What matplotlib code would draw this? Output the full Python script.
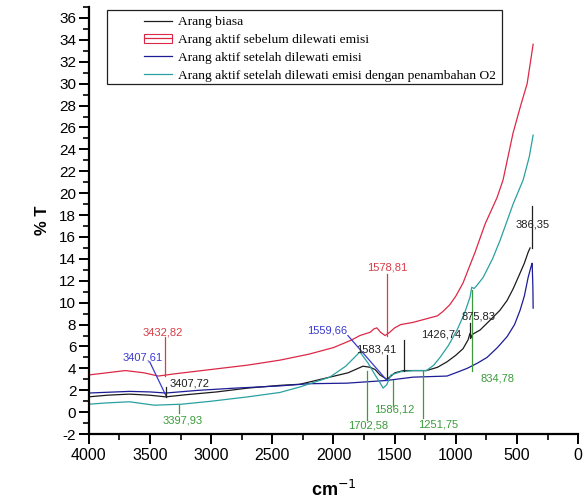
import matplotlib.pyplot as plt
from matplotlib.lines import Line2D
from matplotlib.patches import Patch, Rectangle
from matplotlib.ticker import MultipleLocator

plt.rcParams["axes.unicode_minus"] = False

# ---------- FTIR spectra ----------
wn_biasa = [4000, 3850, 3667, 3500, 3371, 3200, 2955, 2700, 2439, 2275, 2030, 1880,
            1759, 1700, 1660, 1620, 1563, 1530, 1497, 1426, 1340, 1240, 1150, 1072,
            1000, 941, 900, 884, 875, 865, 850, 802, 720, 640, 581, 530, 475, 440,
            409, 393]
t_biasa = [1.4, 1.55, 1.65, 1.55, 1.4, 1.6, 1.85, 2.2, 2.45, 2.55, 3.2, 3.6,
           4.2, 4.1, 3.9, 3.4, 3.0, 3.3, 3.6, 3.8, 3.8, 3.8, 4.1, 4.6,
           5.2, 5.8, 6.6, 7.2, 6.8, 7.1, 7.2, 7.5, 8.4, 9.3, 10.2, 11.3, 12.7, 13.6,
           14.6, 15.0]

wn_sebelum = [4000, 3850, 3700, 3550, 3432, 3300, 3000, 2700, 2439, 2200, 2000, 1850,
              1784, 1700, 1670, 1645, 1615, 1578, 1540, 1500, 1450, 1350, 1250, 1150,
              1105, 1050, 1000, 941, 843, 760, 663, 614, 532, 470, 417, 368]
t_sebelum = [3.4, 3.6, 3.8, 3.6, 3.3, 3.5, 3.9, 4.3, 4.75, 5.3, 5.9, 6.6,
             7.0, 7.3, 7.6, 7.7, 7.3, 7.0, 7.3, 7.7, 8.0, 8.2, 8.5, 8.8,
             9.2, 9.8, 10.6, 11.8, 14.6, 17.2, 19.6, 21.2, 25.5, 28.0, 30.0, 33.6]

wn_setelah = [4000, 3667, 3500, 3371, 3100, 2800, 2439, 2200, 1892, 1563, 1350, 1072,
              1000, 908, 820, 745, 660, 581, 520, 475, 440, 409, 385, 376, 370, 368]
t_setelah = [1.75, 1.9, 1.85, 1.75, 2.0, 2.2, 2.4, 2.6, 2.65, 2.9, 3.2, 3.3,
             3.6, 4.0, 4.5, 5.0, 5.9, 6.9, 8.0, 9.3, 10.6, 12.3, 13.3, 13.6, 11.4, 9.5]

wn_o2 = [4000, 3850, 3667, 3465, 3240, 3000, 2700, 2439, 2275, 2030, 1900, 1784,
         1718, 1660, 1620, 1595, 1565, 1530, 1450, 1350, 1240, 1180, 1129, 1060,
         990, 930, 884, 870, 850, 826, 777, 700, 638, 580, 532, 450, 400, 368]
t_o2 = [0.73, 0.85, 0.95, 0.64, 0.73, 1.0, 1.4, 1.8, 2.3, 3.2, 4.2, 5.5,
        4.5, 3.4, 2.7, 2.2, 2.5, 3.4, 3.7, 3.8, 3.8, 4.3, 5.0, 6.1,
        7.5, 9.0, 10.5, 11.4, 11.3, 11.6, 12.3, 14.0, 15.7, 17.5, 19.0, 21.2, 23.3, 25.3]

labels = ["Arang biasa",
          "Arang aktif sebelum dilewati emisi",
          "Arang aktif setelah dilewati emisi",
          "Arang aktif setelah dilewati emisi dengan penambahan O2"]
colors = ["#1c1c1c", "#dc2846", "#1c1c96", "#2aa0a0"]

# peak labels: text, colour, leader line (x0, y0, x1, y1), text position
red, blue, black, green = "#d83c46", "#3a3ad0", "#202020", "#3c9a3c"
peaks = [
    ("3432,82", red, (3380, 3.3, 3380, 6.9), (3396, 7.3)),
    ("3407,61", blue, (3502, 4.6, 3371, 1.55), (3560, 5.0)),
    ("3407,72", black, (3371, 1.4, 3371, 2.3), (3175, 2.6)),
    ("3397,93", green, (3265, 0.7, 3265, -0.1), (3232, -0.8)),
    ("1578,81", red, (1563, 7.0, 1563, 12.6), (1563, 13.2)),
    ("1559,66", blue, (1882, 7.0, 1563, 2.9), (2054, 7.5)),
    ("1583,41", black, (1563, 3.1, 1563, 5.2), (1653, 5.7)),
    ("1426,74", black, (1424, 3.8, 1424, 6.6), (1121, 7.1)),
    ("875,83", black, (884, 6.8, 884, 8.1), (818, 8.7)),
    ("834,78", green, (867, 11.2, 867, 3.8), (663, 3.1)),
    ("1702,58", green, (1727, 3.8, 1727, -0.7), (1718, -1.2)),
    ("1586,12", green, (1514, 2.9, 1514, 0.6), (1506, 0.2)),
    ("1251,75", green, (1268, 3.8, 1268, -0.5), (1146, -1.1)),
    ("386,35", black, (376, 15.0, 376, 18.8), (376, 17.1)),
]

fig = plt.figure(figsize=(5.84, 5.03), dpi=100)
ax = fig.add_axes([0.152, 0.137, 0.838, 0.849])

series = [(wn_biasa, t_biasa), (wn_sebelum, t_sebelum), (wn_setelah, t_setelah), (wn_o2, t_o2)]
for (x, y), c in zip(series, colors):
    ax.plot(x, y, color=c, lw=0.9)

for txt, c, (x0, y0, x1, y1), (tx, ty) in peaks:
    ax.plot([x0, x1], [y0, y1], color=c, lw=0.9)
    ax.text(tx, ty, txt, color=c, fontsize=8, ha="center", va="center",
            family="Liberation Sans")

ax.set_xlim(4000, 0)
ax.set_ylim(-2, 37)
ax.xaxis.set_major_locator(MultipleLocator(500))
ax.xaxis.set_minor_locator(MultipleLocator(250))
ax.yaxis.set_minor_locator(MultipleLocator(1))
ax.set_yticks(range(-2, 37, 2))
ax.tick_params(which="major", direction="out", length=7, width=1.4)
ax.tick_params(which="minor", direction="out", length=4, width=1.2)
ax.tick_params(axis="x", labelsize=11.5, pad=3)
ax.tick_params(axis="y", labelsize=11, pad=2)
for lab in ax.get_xticklabels() + ax.get_yticklabels():
    lab.set_family("Liberation Sans")
for s in ["top", "right"]:
    ax.spines[s].set_visible(False)
for s in ["left", "bottom"]:
    ax.spines[s].set_linewidth(1.6)

ax.set_ylabel("% T", fontsize=12, fontweight="bold", family="Liberation Sans", labelpad=7)
ax.set_xlabel("cm$^{-1}$", fontsize=13, fontweight="bold", family="Liberation Sans", labelpad=12)

# legend
handles = []
for i, c in enumerate(colors):
    ln = Line2D([], [], color=c, lw=0.9)
    if i == 1:
        handles.append((Patch(facecolor="none", edgecolor=c, lw=0.8), ln))
    else:
        handles.append(ln)
leg = ax.legend(handles, labels, loc="upper left", bbox_to_anchor=(0.099, 0.995),
                frameon=False, prop={"family": "Liberation Serif", "size": 9.7},
                handlelength=2.1, handletextpad=0.45, labelspacing=0.4, borderpad=0.0)
ax.add_patch(Rectangle((0.037, 0.82), 0.808, 0.173, transform=ax.transAxes,
                       fill=False, ec="#202020", lw=0.9, zorder=5))

fig.savefig("out.png", dpi=100)
